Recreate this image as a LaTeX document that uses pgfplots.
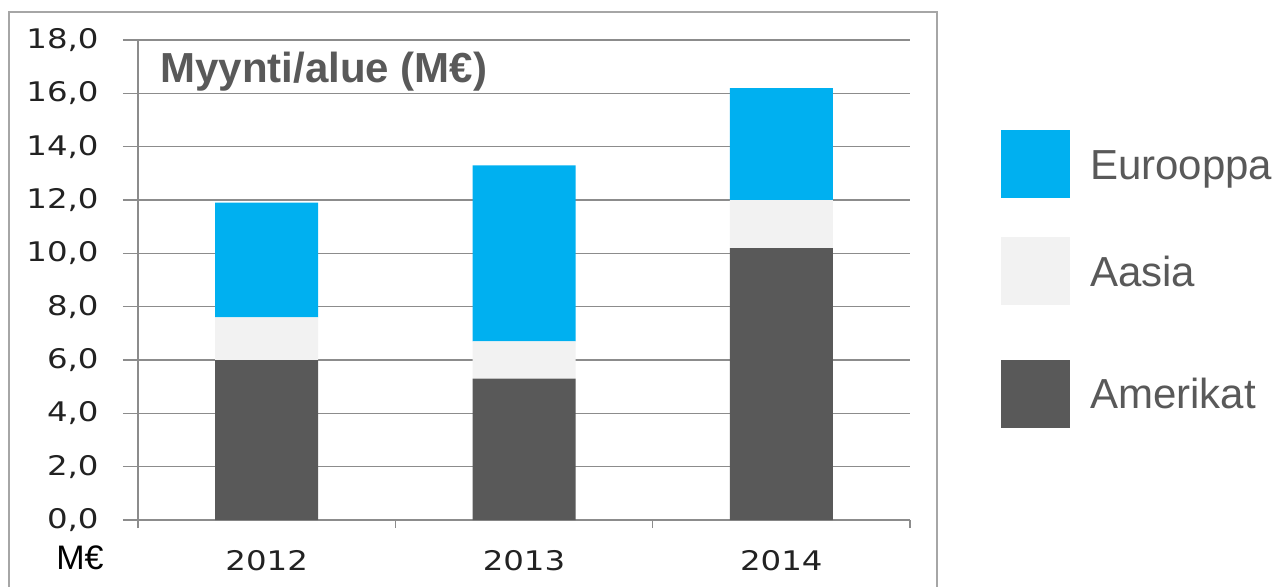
\documentclass[border=0pt]{standalone}
\usepackage{fontspec}
\setmainfont{Liberation Sans}
\newfontfamily\tickfont[FakeStretch=1.2]{DejaVu Sans}
\usepackage{pgfplots}
\pgfplotsset{compat=1.18}
\definecolor{amer}{HTML}{595959}
\definecolor{aasia}{HTML}{F2F2F2}
\definecolor{euro}{HTML}{00B0F0}
\definecolor{gridc}{HTML}{8C8C8C}
\definecolor{framec}{HTML}{A6A6A6}
\definecolor{txt}{HTML}{595959}
\definecolor{ticktxt}{HTML}{222222}
\pgfplotsset{
  legsq/.style={legend image code/.code={\fill[##1] (0pt,-17pt) rectangle (34.5pt,17pt);}},
  legsqmid/.style={legend image code/.code={\fill[##1, overlay] (0pt,-13.125pt) rectangle (34.5pt,20.875pt);}}
}
\begin{document}
\begin{tikzpicture}
\useasboundingbox (0,0) rectangle (637pt,293pt);
\fill[white] (0,0) rectangle (637pt,293pt);
\draw[framec, line width=1pt] (4.5pt,-10pt) rectangle (468.5pt,287pt);
\begin{axis}[
  at={(69pt,33pt)}, anchor=south west,
  scale only axis, width=386pt, height=240pt,
  ybar stacked, bar width=51.5pt,
  xmin=-0.5, xmax=2.5, ymin=0, ymax=18,
  xtick={0,1,2}, xticklabels={2012,2013,2014},
  ytick={0,2,...,18},
  yticklabels={{0,0},{2,0},{4,0},{6,0},{8,0},{10,0},{12,0},{14,0},{16,0},{18,0}},
  axis x line*=bottom, axis y line*=left,
  axis line style={draw=gridc, line width=0.8pt, -},
  ymajorgrids, major grid style={draw=gridc, line width=0.8pt},
  tick align=outside, major tick length=7.5pt,
  ytick style={draw=gridc, line width=0.8pt},
  xtick style={draw=none},
  extra x ticks={-0.5,0.5,1.5,2.5}, extra x tick labels={},
  extra x tick style={major tick length=4pt, xtick style={draw=gridc, line width=0.8pt}},
  yticklabel style={font=\tickfont\fontsize{13.5}{16}\selectfont, text=ticktxt, anchor=east, inner sep=0pt, xshift=-12pt},
  xticklabel style={font=\tickfont\fontsize{13.5}{16}\selectfont, text=ticktxt, anchor=north, inner sep=0pt, yshift=-7.5pt},
  legend style={at={(1.1179,0.8125)}, anchor=north west, draw=none, fill=none,
    inner sep=0pt, outer sep=0pt, row sep=40.375pt, column sep=10pt,
    font=\fontsize{21}{25}\selectfont, text=txt,
    nodes={inner sep=0pt, text height=15.1pt, text depth=0pt}},
  legend cell align=left, reverse legend,
  clip=false,
]
\addplot[fill=amer, draw=none, legsq] coordinates {(0,6.0) (1,5.3) (2,10.2)};
\addlegendentry{Amerikat}
\addplot[fill=aasia, draw=none, legsqmid] coordinates {(0,1.6) (1,1.4) (2,1.8)};
\addlegendentry[overlay, yshift=3.875pt]{Aasia}
\addplot[fill=euro, draw=none, legsq] coordinates {(0,4.3) (1,6.6) (2,4.2)};
\addlegendentry{Eurooppa}
\node[anchor=base west, inner sep=0pt, font=\fontsize{21}{25}\selectfont\bfseries, text=txt] at (rel axis cs:0.0285,0.9125) {Myynti/alue (M€)};
\node[anchor=base, inner sep=0pt, font=\fontsize{17}{20}\selectfont, text=black] at (rel axis cs:-0.0751,-0.104) {M€};
\end{axis}
\end{tikzpicture}
\end{document}
